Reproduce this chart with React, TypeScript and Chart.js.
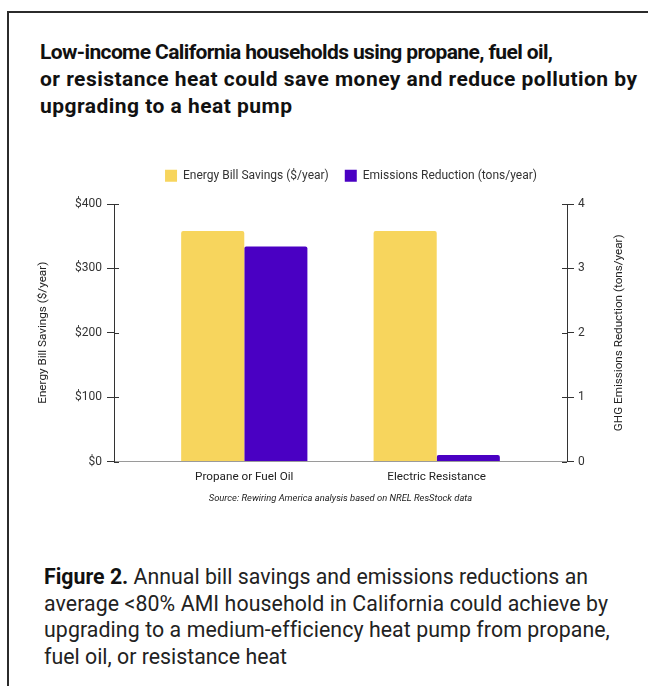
import React, { useEffect, useRef } from 'react';
import { Chart, registerables } from 'chart.js';

Chart.register(...registerables);

const categories = ['Propane or Fuel Oil', 'Electric Resistance'];
const billSavings = [358, 358];
const emissionsReduction = [3.34, 0.1];
const billTicks = [0, 100, 200, 300, 400];
const emissionTicks = [0, 1, 2, 3, 4];
const seriesNames = ['Energy Bill Savings ($/year)', 'Emissions Reduction (tons/year)'];
const leftAxisTitle = 'Energy Bill Savings ($/year)';
const rightAxisTitle = 'GHG Emissions Reduction (tons/year)';
const sourceText = 'Source: Rewiring America analysis based on NREL ResStock data';
const titleLines = [
  'Low-income California households using propane, fuel oil,',
  'or resistance heat could save money and reduce pollution by',
  'upgrading to a heat pump',
];
const captionBold = 'Figure 2.';
const captionLines = [
  ' Annual bill savings and emissions reductions an',
  'average <80% AMI household in California could achieve by',
  'upgrading to a medium-efficiency heat pump from propane,',
  'fuel oil, or resistance heat',
];

// layout: target rendered widths of the HTML text lines (px)
const titleLineWidths = [513, 597, 252];
const captionLineWidths = [544, 564, 564, 243];

const YELLOW = '#F7D55D';
const PURPLE = '#4A00C3';
const FONT = 'Roboto, "Liberation Sans", Arial, sans-serif';

const measureCtx =
  typeof document !== 'undefined' ? document.createElement('canvas').getContext('2d') : null;
function textWidth(text: string, font: string) {
  if (!measureCtx) return 0;
  measureCtx.font = font;
  return measureCtx.measureText(text).width;
}
function spacingFor(parts: [string, string][], target: number) {
  let w = 0;
  let n = 0;
  parts.forEach(([t, f]) => {
    w += textWidth(t, f);
    n += t.length;
  });
  return n > 1 ? (target - w) / (n - 1) : 0;
}

const axisExtras = {
  id: 'axisExtras',
  afterDraw(chart: any) {
    const ctx = chart.ctx;
    const area = chart.chartArea;
    ctx.save();
    ctx.strokeStyle = '#333';
    ctx.lineWidth = 1;
    [['y', area.left, 1], ['y1', area.right, -1]].forEach(([id, x, dir]: any) => {
      const s = chart.scales[id];
      s.ticks.forEach((_t: any, i: number) => {
        const py = Math.round(s.getPixelForTick(i)) + 0.5;
        ctx.beginPath();
        ctx.moveTo(x, py);
        ctx.lineTo(x + dir * 5, py);
        ctx.stroke();
      });
    });
    ctx.translate(area.right + 52, (area.top + area.bottom) / 2);
    ctx.rotate(-Math.PI / 2);
    ctx.font = `11.7px ${FONT}`;
    ctx.fillStyle = '#222';
    ctx.textAlign = 'center';
    ctx.textBaseline = 'middle';
    ctx.fillText(rightAxisTitle, 0, 0);
    ctx.restore();
  },
};

function BarChart() {
  const ref = useRef<HTMLCanvasElement>(null);
  useEffect(() => {
    if (!ref.current) return;
    const chart = new Chart(ref.current, {
      type: 'bar',
      data: {
        datasets: [
          {
            label: seriesNames[0],
            data: categories.map((_c, i) => ({ x: i, y: billSavings[i] })),
            backgroundColor: YELLOW,
            borderRadius: { topLeft: 2, topRight: 2 },
            borderSkipped: 'bottom',
            yAxisID: 'y',
          },
          {
            label: seriesNames[1],
            data: categories.map((_c, i) => ({ x: i, y: emissionsReduction[i] })),
            backgroundColor: PURPLE,
            borderRadius: { topLeft: 2, topRight: 2 },
            borderSkipped: 'bottom',
            yAxisID: 'y1',
          },
        ] as any,
      },
      options: {
        animation: false,
        responsive: true,
        maintainAspectRatio: false,
        datasets: { bar: { categoryPercentage: 0.656, barPercentage: 1 } } as any,
        layout: { padding: { top: 3.7, bottom: 11.7, left: 23, right: -23 } },
        plugins: {
          tooltip: { enabled: false },
          legend: {
            position: 'top',
            fullSize: true,
            labels: {
              boxWidth: 12,
              boxHeight: 12,
              padding: 16,
              color: '#333',
              font: { family: FONT, size: 12 },
            },
          },
          title: {
            display: true,
            text: ' ',
            position: 'top',
            fullSize: false,
            weight: 500,
            font: { size: 1, lineHeight: 1 },
            padding: { top: 11.3, bottom: 0 },
          } as any,
          subtitle: {
            display: true,
            text: sourceText,
            position: 'bottom',
            fullSize: false,
            color: '#222',
            font: { family: FONT, size: 9.4, style: 'italic', lineHeight: 1.2 },
            padding: { top: 7.5, bottom: 4 },
          },
        },
        scales: {
          x: {
            type: 'linear',
            offset: false,
            min: -0.677,
            max: 1.677,
            afterBuildTicks: (scale: any) => {
              scale.ticks = categories.map((_c, i) => ({ value: i }));
            },
            afterFit: (scale: any) => {
              scale.height = 24;
            },
            ticks: {
              autoSkip: false,
              maxRotation: 0,
              padding: 8.5,
              color: '#222',
              font: { family: FONT, size: 11.7 },
              callback: (v: any) => categories[v as number] ?? '',
            },
            grid: { display: true, offset: false, drawOnChartArea: false, drawTicks: false },
            border: { display: true, color: '#9a9a9a', width: 1 },
          },
          y: {
            type: 'linear',
            position: 'left',
            min: 0,
            max: 400,
            afterBuildTicks: (scale: any) => {
              scale.ticks = billTicks.map((v) => ({ value: v }));
            },
            afterFit: (scale: any) => {
              scale.width = 83;
            },
            ticks: {
              padding: 5,
              color: '#333',
              font: { family: FONT, size: 12 },
              callback: (v: any) => '$' + v,
            },
            grid: { drawOnChartArea: false, drawTicks: true, tickLength: 7, tickColor: '#333' },
            border: { display: true, color: '#333', width: 1 },
            title: {
              display: true,
              text: leftAxisTitle,
              color: '#222',
              font: { family: FONT, size: 11.7 },
              padding: { top: 5, bottom: 0 },
            },
          },
          y1: {
            type: 'linear',
            position: 'right',
            min: 0,
            max: 4,
            afterBuildTicks: (scale: any) => {
              scale.ticks = emissionTicks.map((v) => ({ value: v }));
            },
            afterFit: (scale: any) => {
              scale.width = 104;
            },
            ticks: {
              padding: 4,
              color: '#333',
              font: { family: FONT, size: 12 },
            },
            grid: { drawOnChartArea: false, drawTicks: true, tickLength: 7, tickColor: '#333' },
            border: { display: true, color: '#333', width: 1 },
          },
        },
      } as any,
      plugins: [axisExtras],
    });
    return () => chart.destroy();
  }, []);
  return <canvas ref={ref} />;
}

export default function App() {
  useEffect(() => {
    document.body.style.overflow = 'hidden';
  }, []);
  const titleFont = `700 21px ${FONT}`;
  const capBoldFont = `700 21.3px ${FONT}`;
  const capFont = `400 21.3px ${FONT}`;
  return (
    <div>
      <div
        style={{
          position: 'absolute',
          left: 7,
          top: 11,
          width: 641,
          height: 675,
          boxSizing: 'border-box',
          borderLeft: '2px solid #2b2b2b',
          borderTop: '2px solid #2b2b2b',
          background: '#fff',
        }}
      />
      <div
        style={{
          position: 'absolute',
          left: 40,
          top: 38.5,
          fontFamily: FONT,
          fontWeight: 700,
          fontSize: 21,
          lineHeight: '27px',
          color: '#111',
          whiteSpace: 'nowrap',
        }}
      >
        {titleLines.map((l, i) => (
          <div key={i} style={{ letterSpacing: spacingFor([[l, titleFont]], titleLineWidths[i]) + 'px' }}>
            {l}
          </div>
        ))}
      </div>
      <div style={{ position: 'absolute', left: 8, top: 150, width: 640, height: 370 }}>
        <BarChart />
      </div>
      <div
        style={{
          position: 'absolute',
          left: 44,
          top: 564,
          fontFamily: FONT,
          fontSize: 21.3,
          lineHeight: '26.5px',
          color: '#222',
          whiteSpace: 'nowrap',
        }}
      >
        {captionLines.map((l, i) => {
          const parts: [string, string][] =
            i === 0 ? [[captionBold, capBoldFont], [l, capFont]] : [[l, capFont]];
          return (
            <div key={i} style={{ letterSpacing: spacingFor(parts, captionLineWidths[i]) + 'px' }}>
              {i === 0 ? <b style={{ color: '#111' }}>{captionBold}</b> : null}
              {l}
            </div>
          );
        })}
      </div>
    </div>
  );
}
